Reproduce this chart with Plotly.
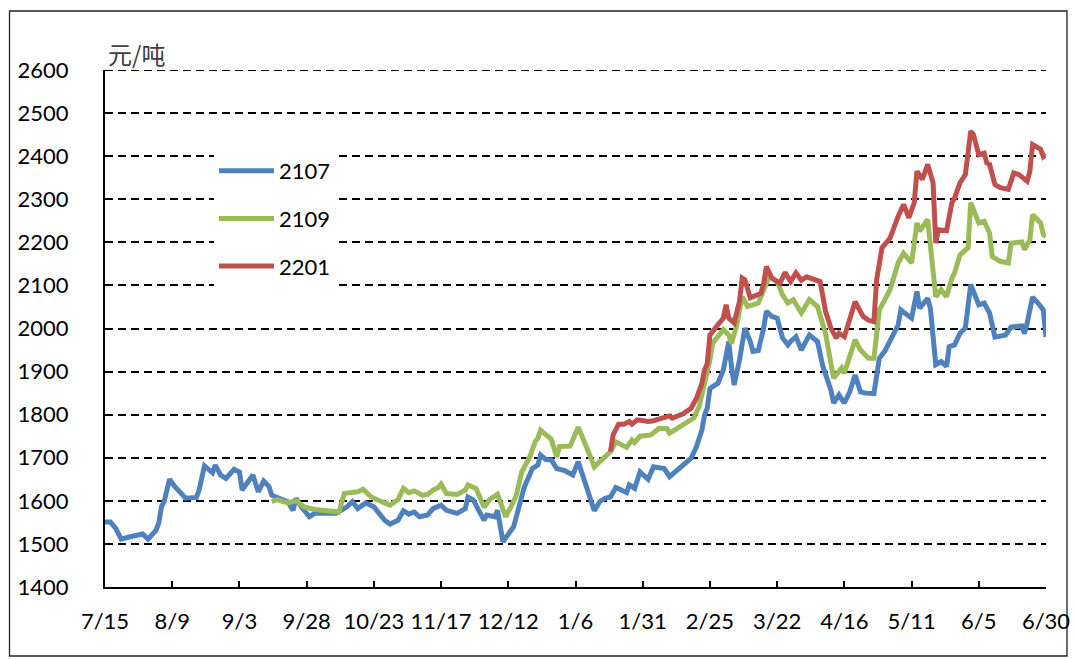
import plotly.graph_objects as go

dates_2107 = ["2020-07-15","2020-07-17","2020-07-19","2020-07-21","2020-07-24","2020-07-29","2020-07-31",
"2020-08-03","2020-08-04","2020-08-05","2020-08-06","2020-08-08","2020-08-10","2020-08-14","2020-08-18",
"2020-08-19","2020-08-21","2020-08-24","2020-08-25","2020-08-27","2020-08-29","2020-09-01","2020-09-03",
"2020-09-04","2020-09-08","2020-09-10","2020-09-12","2020-09-14","2020-09-15","2020-09-19","2020-09-21",
"2020-09-23","2020-09-24","2020-09-26","2020-09-29","2020-10-01","2020-10-09","2020-10-13","2020-10-15",
"2020-10-17","2020-10-20","2020-10-23","2020-10-27","2020-10-29","2020-11-01","2020-11-03","2020-11-05",
"2020-11-07","2020-11-09","2020-11-12","2020-11-14","2020-11-17","2020-11-19","2020-11-23","2020-11-25",
"2020-11-26","2020-11-27","2020-11-29","2020-12-01","2020-12-03","2020-12-04","2020-12-07","2020-12-08",
"2020-12-10","2020-12-14","2020-12-16","2020-12-18","2020-12-21","2020-12-23","2020-12-24","2020-12-26",
"2020-12-28","2020-12-30","2021-01-02","2021-01-05","2021-01-07","2021-01-10","2021-01-13","2021-01-15",
"2021-01-17","2021-01-19","2021-01-21","2021-01-23","2021-01-25","2021-01-26","2021-01-28","2021-01-30",
"2021-02-02","2021-02-04","2021-02-08","2021-02-10","2021-02-18","2021-02-20","2021-02-22","2021-02-23",
"2021-02-24","2021-02-25","2021-02-28","2021-03-02","2021-03-04","2021-03-05","2021-03-06","2021-03-08",
"2021-03-10","2021-03-12","2021-03-13","2021-03-15","2021-03-17","2021-03-18","2021-03-20","2021-03-22",
"2021-03-24","2021-03-26","2021-03-27","2021-03-29","2021-03-31","2021-04-01","2021-04-03","2021-04-06",
"2021-04-08","2021-04-11","2021-04-12","2021-04-14","2021-04-16","2021-04-18","2021-04-20","2021-04-22",
"2021-04-24","2021-04-27","2021-04-29","2021-05-01","2021-05-06","2021-05-07","2021-05-11","2021-05-13",
"2021-05-14","2021-05-17","2021-05-18","2021-05-20","2021-05-22","2021-05-24","2021-05-25","2021-05-27",
"2021-05-29","2021-05-31","2021-06-02","2021-06-05","2021-06-07","2021-06-09","2021-06-11","2021-06-15",
"2021-06-17","2021-06-21","2021-06-22","2021-06-23","2021-06-25","2021-06-27","2021-06-29","2021-06-30"]
price_2107 = [1551,1551,1536,1511,1516,1523,1511,
1532,1549,1586,1598,1650,1633,1606,1608,
1625,1681,1665,1683,1660,1652,1673,1667,
1625,1660,1621,1646,1633,1613,1602,1598,
1578,1606,1586,1563,1571,1571,1586,1598,
1582,1595,1586,1555,1546,1555,1577,1569,
1574,1563,1567,1582,1590,1578,1571,1580,
1582,1609,1602,1578,1555,1567,1563,1578,
1505,1540,1590,1633,1675,1683,1706,1696,
1695,1675,1670,1660,1691,1633,1577,1598,
1606,1609,1631,1625,1619,1637,1629,1667,
1650,1679,1675,1656,1699,1726,1764,1799,
1815,1861,1873,1904,1970,1912,1869,1927,
2001,1970,1947,1949,2001,2040,2028,2024,
1978,1962,1970,1981,1950,1962,1985,1970,
1912,1857,1827,1846,1827,1853,1892,1853,
1850,1849,1931,1947,2008,2043,2024,2086,
2047,2070,2047,1916,1923,1912,1958,1962,
1989,2001,2102,2055,2059,2036,1980,1985,
2003,2006,1988,2013,2073,2059,2043,1980]

dates_2109 = ["2020-09-15","2020-09-17","2020-09-21","2020-09-24","2020-09-27","2020-10-01","2020-10-10",
"2020-10-12","2020-10-14","2020-10-17","2020-10-19","2020-10-22","2020-10-24","2020-10-27","2020-10-29",
"2020-11-01","2020-11-03","2020-11-05","2020-11-07","2020-11-10","2020-11-12","2020-11-14","2020-11-16",
"2020-11-17","2020-11-19","2020-11-23","2020-11-26","2020-11-27","2020-11-30","2020-12-03","2020-12-05",
"2020-12-08","2020-12-11","2020-12-13","2020-12-15","2020-12-17","2020-12-20","2020-12-22","2020-12-23",
"2020-12-24","2020-12-26","2020-12-28","2020-12-30","2020-12-31","2021-01-04","2021-01-05","2021-01-07",
"2021-01-10","2021-01-13","2021-01-15","2021-01-18","2021-01-19","2021-01-21","2021-01-25","2021-01-27",
"2021-01-28","2021-01-30","2021-02-03","2021-02-06","2021-02-09","2021-02-10","2021-02-14","2021-02-19",
"2021-02-21","2021-02-23","2021-02-25","2021-02-26","2021-03-01","2021-03-02","2021-03-04","2021-03-05",
"2021-03-07","2021-03-09","2021-03-11","2021-03-15","2021-03-18","2021-03-19","2021-03-22","2021-03-24",
"2021-03-26","2021-03-28","2021-03-31","2021-04-03","2021-04-06","2021-04-09","2021-04-11","2021-04-12",
"2021-04-15","2021-04-16","2021-04-18","2021-04-20","2021-04-22","2021-04-25","2021-04-27","2021-04-29",
"2021-05-03","2021-05-06","2021-05-08","2021-05-11","2021-05-13","2021-05-14","2021-05-17","2021-05-20",
"2021-05-22","2021-05-24","2021-05-26","2021-05-27","2021-05-29","2021-06-01","2021-06-02","2021-06-05",
"2021-06-07","2021-06-09","2021-06-10","2021-06-13","2021-06-16","2021-06-17","2021-06-21","2021-06-22",
"2021-06-24","2021-06-25","2021-06-28","2021-06-29","2021-06-30"]
price_2109 = [1598,1603,1595,1600,1586,1580,1574,
1617,1619,1621,1627,1609,1603,1594,1590,
1603,1629,1619,1623,1613,1615,1625,1631,
1639,1617,1615,1625,1637,1629,1585,1603,
1615,1563,1586,1613,1667,1702,1737,1745,
1764,1753,1743,1702,1726,1727,1741,1771,
1726,1679,1691,1706,1714,1737,1724,1741,
1735,1750,1753,1768,1768,1757,1772,1792,
1819,1869,1927,1966,1993,1997,1985,1965,
2009,2074,2051,2059,2105,2121,2109,2078,
2059,2067,2036,2067,2051,1989,1919,1885,
1908,1896,1935,1974,1950,1931,1931,2043,
2090,2152,2175,2152,2245,2226,2253,2074,
2090,2074,2117,2129,2171,2187,2292,2245,
2249,2222,2167,2156,2152,2198,2201,2183,
2206,2264,2245,2218,2214]

dates_2201 = ["2021-01-19","2021-01-20","2021-01-22","2021-01-24","2021-01-26","2021-01-27","2021-01-29",
"2021-02-02","2021-02-04","2021-02-08","2021-02-10","2021-02-11","2021-02-15","2021-02-18","2021-02-20",
"2021-02-22","2021-02-23","2021-02-24","2021-02-25","2021-02-28","2021-03-02","2021-03-03","2021-03-04",
"2021-03-06","2021-03-08","2021-03-09","2021-03-10","2021-03-12","2021-03-14","2021-03-16","2021-03-17",
"2021-03-18","2021-03-20","2021-03-23","2021-03-25","2021-03-27","2021-03-29","2021-03-31","2021-04-02",
"2021-04-07","2021-04-09","2021-04-11","2021-04-13","2021-04-14","2021-04-16","2021-04-18","2021-04-20",
"2021-04-23","2021-04-25","2021-04-27","2021-04-28","2021-04-30","2021-05-03","2021-05-06","2021-05-08",
"2021-05-10","2021-05-12","2021-05-13","2021-05-15","2021-05-17","2021-05-19","2021-05-20","2021-05-21",
"2021-05-24","2021-05-26","2021-05-27","2021-05-29","2021-05-31","2021-06-02","2021-06-03","2021-06-05",
"2021-06-07","2021-06-08","2021-06-09","2021-06-11","2021-06-13","2021-06-16","2021-06-18","2021-06-20",
"2021-06-23","2021-06-24","2021-06-25","2021-06-27","2021-06-28","2021-06-29","2021-06-30"]
price_2201 = [1714,1753,1778,1778,1784,1778,1788,
1784,1786,1792,1797,1792,1802,1815,1838,
1873,1904,1919,1985,2009,2024,2055,2024,
2013,2063,2117,2113,2071,2078,2082,2105,
2144,2117,2105,2130,2109,2129,2112,2120,
2109,2040,2001,1978,1989,1981,2020,2062,
2028,2019,2016,2113,2187,2210,2260,2288,
2257,2292,2365,2346,2381,2338,2198,2229,
2227,2292,2303,2338,2357,2458,2450,2403,
2407,2384,2381,2334,2327,2323,2361,2357,
2342,2365,2427,2420,2416,2399,2404]

tick_dates = ["2020-07-15","2020-08-09","2020-09-03","2020-09-28","2020-10-23","2020-11-17","2020-12-12",
              "2021-01-06","2021-01-31","2021-02-25","2021-03-22","2021-04-16","2021-05-11","2021-06-05","2021-06-30"]
tick_labels = ["7/15","8/9","9/3","9/28","10/23","11/17","12/12","1/6","1/31","2/25","3/22","4/16","5/11","6/5","6/30"]
y_ticks = list(range(1400, 2601, 100))

series = [("2107", dates_2107, price_2107, "#4F81BD"),
          ("2109", dates_2109, price_2109, "#9BBB59"),
          ("2201", dates_2201, price_2201, "#C0504D")]

FONT = "Lato, 'Liberation Sans', sans-serif"
fig = go.Figure()
for i, (name, d, p, c) in enumerate(series):
    fig.add_trace(go.Scatter(x=d, y=p, name=name, mode="lines", legendgroup=f"g{i}",
                             line=dict(color=c, width=5)))

W, H = 1075, 659
L, R, T, B = 105, 1046, 70, 587
pw, ph = R - L, B - T
def px(x): return (x - L) / pw
def py(y): return (B - y) / ph

fig.update_layout(
    width=W, height=H,
    margin=dict(l=L, r=W - R, t=T, b=H - B, autoexpand=False),
    paper_bgcolor="white", plot_bgcolor="white",
    font=dict(family=FONT, size=22, color="black"),
    showlegend=True,
    legend=dict(x=px(214), y=py(150), xanchor="left", yanchor="top",
                bgcolor="white", font=dict(size=22, family=FONT),
                itemwidth=55, tracegroupgap=16, traceorder="grouped"),
    xaxis=dict(type="date", range=["2020-07-15", "2021-06-30"],
               tickvals=tick_dates, ticktext=tick_labels,
               showgrid=False, showline=True, linecolor="black", linewidth=2,
               ticks="inside", ticklen=6, tickwidth=1.5, tickcolor="black",
               tickfont=dict(size=22, family=FONT), ticklabelstandoff=14, zeroline=False),
    yaxis=dict(range=[y_ticks[0], y_ticks[-1]], tickvals=y_ticks,
               showgrid=True, gridcolor="black", gridwidth=2, griddash="8px,5px",
               showline=True, linecolor="black", linewidth=2,
               ticks="", tickfont=dict(size=22, family=FONT), ticklabelstandoff=30,
               zeroline=False),
    annotations=[dict(text="元/吨", xref="paper", yref="paper", x=px(106), y=py(54),
                      xanchor="left", yanchor="middle", showarrow=False,
                      font=dict(size=24, family="'Noto Sans CJK SC'", color="#404040"))],
    shapes=[dict(type="rect", xref="paper", yref="paper",
                 x0=px(9.5), x1=px(1067), y0=py(656), y1=py(11),
                 line=dict(color="#222222", width=1.3), layer="below"),
            dict(type="line", xref="paper", yref="y", x0=0, x1=1,
                 y0=y_ticks[-1], y1=y_ticks[-1],
                 line=dict(color="black", width=2, dash="8px,5px"), layer="below")],
)

fig.write_html("out.html", config={"displayModeBar": False},
               post_script="document.body.style.margin='0';document.body.style.overflow='hidden';")
